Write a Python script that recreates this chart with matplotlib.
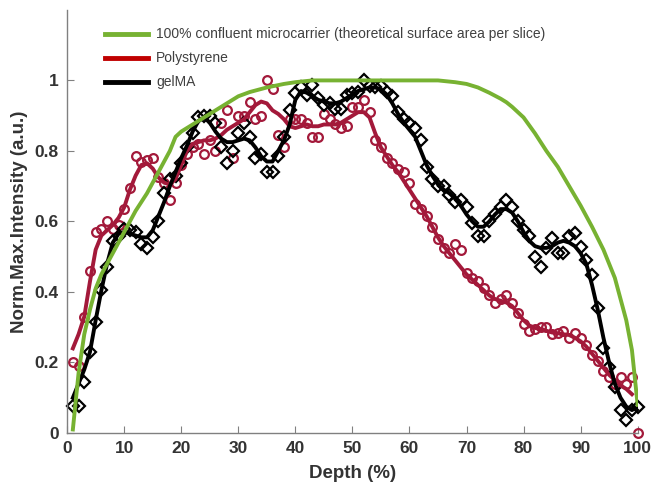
import matplotlib
matplotlib.use("Agg")
import matplotlib.pyplot as plt
from matplotlib.lines import Line2D
import numpy as np

# theoretical surface area curve
green_x = [1, 2, 3, 4, 5, 6, 7, 8, 10, 12, 14, 16, 18, 19, 20, 22, 24, 26, 28, 30, 32, 35, 38, 40, 43, 46,
           50, 55, 60, 65, 68, 70, 72, 74, 76, 77, 78, 80, 82, 84, 86, 88, 90, 92, 94, 96, 97, 98, 99, 100]
green_y = [0.01, 0.17, 0.28, 0.35, 0.41, 0.45, 0.48, 0.51, 0.57, 0.63, 0.68, 0.74, 0.80, 0.84, 0.855, 0.875,
           0.895, 0.915, 0.935, 0.955, 0.967, 0.98, 0.99, 0.995, 1.0, 1.0, 1.0, 1.0, 1.0, 1.0, 0.995, 0.99,
           0.98, 0.965, 0.948, 0.938, 0.925, 0.895, 0.85, 0.80, 0.755, 0.70, 0.645, 0.585, 0.52, 0.44,
           0.38, 0.32, 0.235, 0.08]

depth = list(range(1, 101))

# Polystyrene measured points
ps_pts = [0.20, 0.19, 0.33, 0.46, 0.57, 0.58, 0.60, 0.58, 0.59, 0.635,
          0.695, 0.785, 0.77, 0.775, 0.78, 0.725, 0.71, 0.66, 0.71, 0.76,
          0.79, 0.81, 0.82, 0.79, 0.83, 0.80, 0.88, 0.915, 0.78, 0.90,
          0.90, 0.94, 0.89, 0.90, 1.0, 0.975, 0.845, 0.81, 0.89, 0.89,
          0.89, 0.88, 0.84, 0.84, 0.905, 0.89, 0.875, 0.865, 0.87, 0.925,
          0.925, 0.945, 0.91, 0.83, 0.81, 0.78, 0.765, 0.75, 0.74, 0.71,
          0.65, 0.635, 0.615, 0.585, 0.55, 0.525, 0.51, 0.535, 0.52, 0.455,
          0.44, 0.43, 0.41, 0.39, 0.37, 0.38, 0.39, 0.37, 0.34, 0.31,
          0.29, 0.295, 0.30, 0.30, 0.28, 0.285, 0.29, 0.27, 0.285, 0.27,
          0.25, 0.22, 0.205, 0.175, 0.16, 0.14, 0.16, 0.14, 0.16, 0.0]

# Polystyrene smoothed
ps_fit = [0.24, 0.28, 0.33, 0.43, 0.52, 0.56, 0.575, 0.59, 0.61, 0.64,
          0.69, 0.73, 0.76, 0.765, 0.75, 0.725, 0.71, 0.705, 0.72, 0.76,
          0.80, 0.82, 0.825, 0.83, 0.83, 0.835, 0.845, 0.86, 0.87, 0.88,
          0.89, 0.91, 0.93, 0.94, 0.935, 0.915, 0.905, 0.89, 0.87, 0.865,
          0.87, 0.875, 0.87, 0.87, 0.875, 0.875, 0.875, 0.88, 0.89, 0.90,
          0.91, 0.91, 0.895, 0.85, 0.81, 0.785, 0.76, 0.74, 0.715, 0.69,
          0.665, 0.64, 0.615, 0.585, 0.555, 0.53, 0.51, 0.49, 0.47, 0.45,
          0.435, 0.42, 0.405, 0.39, 0.38, 0.375, 0.37, 0.36, 0.34, 0.32,
          0.305, 0.298, 0.295, 0.29, 0.285, 0.283, 0.28, 0.278, 0.27, 0.26,
          0.245, 0.225, 0.205, 0.185, 0.165, 0.15, 0.135, 0.125, 0.11]

# gelMA measured points
gm_pts = [0.077, 0.077, 0.145, 0.23, 0.315, 0.405, 0.47, 0.545, 0.56, 0.58,
          0.575, 0.57, 0.535, 0.525, 0.555, 0.60, 0.68, 0.72, 0.73, 0.765,
          0.81, 0.85, 0.895, 0.90, 0.90, 0.88, 0.81, 0.765, 0.80, 0.85,
          0.88, 0.84, 0.78, 0.79, 0.74, 0.74, 0.785, 0.84, 0.915, 0.965,
          0.98, 0.96, 0.987, 0.95, 0.93, 0.935, 0.92, 0.92, 0.96, 0.965,
          0.967, 1.0, 0.985, 0.98, 0.985, 0.967, 0.955, 0.91, 0.89, 0.88,
          0.865, 0.83, 0.755, 0.72, 0.70, 0.70, 0.675, 0.655, 0.66, 0.64,
          0.595, 0.56, 0.56, 0.60, 0.62, 0.64, 0.66, 0.64, 0.60, 0.575,
          0.56, 0.50, 0.47, 0.525, 0.553, 0.51, 0.51, 0.56, 0.567, 0.528,
          0.49, 0.448, 0.355, 0.24, 0.187, 0.13, 0.065, 0.037, 0.065, 0.074]

# gelMA smoothed
gm_fit = [0.10, 0.14, 0.18, 0.23, 0.32, 0.405, 0.48, 0.54, 0.565, 0.57,
          0.565, 0.56, 0.555, 0.555, 0.575, 0.615, 0.655, 0.70, 0.74, 0.78,
          0.815, 0.855, 0.885, 0.895, 0.88, 0.855, 0.835, 0.825, 0.825, 0.83,
          0.835, 0.83, 0.81, 0.785, 0.77, 0.77, 0.80, 0.83, 0.875, 0.945,
          0.97, 0.965, 0.955, 0.945, 0.94, 0.935, 0.935, 0.94, 0.95, 0.96,
          0.97, 0.975, 0.98, 0.98, 0.975, 0.96, 0.935, 0.905, 0.88, 0.86,
          0.84, 0.80, 0.76, 0.73, 0.705, 0.69, 0.68, 0.665, 0.645, 0.62,
          0.60, 0.585, 0.585, 0.60, 0.62, 0.635, 0.635, 0.625, 0.60, 0.57,
          0.545, 0.53, 0.525, 0.525, 0.53, 0.54, 0.545, 0.54, 0.53, 0.51,
          0.48, 0.42, 0.35, 0.27, 0.20, 0.14, 0.10, 0.075, 0.065, 0.075]

labels = ["100% confluent microcarrier (theoretical surface area per slice)", "Polystyrene", "gelMA"]

green = "#77b232"
red = "#a3193a"
black = "#000000"

fig = plt.figure(figsize=(6.52, 4.83), dpi=100)
ax = fig.add_axes([0.103, 0.1035, 0.875, 0.876])

ax.plot(depth, ps_pts, ls="none", marker="o", ms=6.3, mfc="none", mec=red, mew=1.6, clip_on=False)
ax.plot(depth, gm_pts, ls="none", marker="D", ms=5.8, mfc="none", mec=black, mew=1.6, clip_on=False)
ax.plot(depth[:99], ps_fit, color=red, lw=2.8)
ax.plot(depth, gm_fit, color=black, lw=2.8)
ax.plot(green_x, green_y, color=green, lw=2.8)

ax.set_xlim(0, 100)
ax.set_ylim(0, 1.2)
ax.set_xticks(range(0, 101, 10))
ax.set_yticks([0, 0.2, 0.4, 0.6, 0.8, 1.0])
ax.set_yticklabels(["0", "0.2", "0.4", "0.6", "0.8", "1"])

for s in ["top", "right"]:
    ax.spines[s].set_visible(False)
for s in ["left", "bottom"]:
    ax.spines[s].set_color("#808080")
    ax.spines[s].set_linewidth(1.0)

ax.tick_params(direction="in", length=5, color="#808080", labelsize=12.5, labelcolor="#333333", pad=6)
for t in ax.get_xticklabels() + ax.get_yticklabels():
    t.set_fontfamily("Liberation Sans")
    t.set_fontweight("bold")

ax.set_xlabel("Depth (%)", fontsize=13.5, fontweight="bold", family="Liberation Sans", color="#333333", labelpad=6)
ax.set_ylabel("Norm.Max.Intensity (a.u.)", fontsize=13.5, fontweight="bold", family="Liberation Sans",
              color="#333333", labelpad=5)

handles = [Line2D([], [], color=green, lw=3.5),
           Line2D([], [], color="#c00000", lw=3.5),
           Line2D([], [], color=black, lw=3.5)]
leg = ax.legend(handles, labels, loc="upper left", bbox_to_anchor=(0.045, 0.988), frameon=False,
                handlelength=3.1, handletextpad=0.55, labelspacing=0.72,
                prop={"family": "Liberation Sans", "size": 10})
for t in leg.get_texts():
    t.set_color("#404040")

fig.savefig("out.png", dpi=100)
